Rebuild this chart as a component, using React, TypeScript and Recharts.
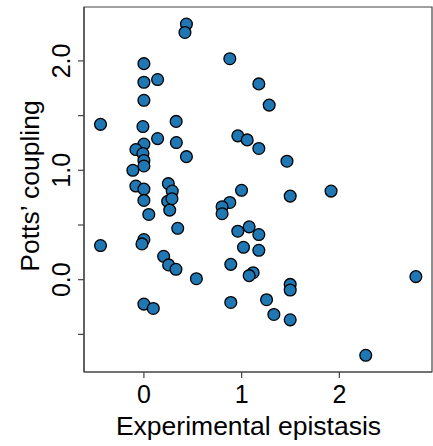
import React from 'react';
import { ScatterChart, Scatter, XAxis, YAxis, ReferenceArea } from 'recharts';

// experimental epistasis (x) and Potts coupling (y) per residue pair
const epistasis = [
  0.435, 0.42, 0.0, 0.0, 0.14, 0.0, -0.444, -0.01, 0.33,
  0.879, 1.176, 1.282,
  0.14, 0.0, 0.332, -0.082, -0.01, 0.0, 0.0, 0.435, -0.113, -0.082, 0.0,
  0.25, 0.29, 0.0, 0.243, 0.287, 0.264, 0.05, 0.346, 0.0, -0.02, -0.444,
  0.961, 1.057, 1.176, 1.464, 0.999, 0.879, 0.8, 0.8, 1.497, 0.961, 1.077,
  1.176, 1.019, 1.176,
  1.915,
  0.202, 0.253, 0.328, 0.537, 0.0, 0.096,
  0.889, 1.118, 1.077, 1.497, 1.497, 0.889, 1.255, 1.33, 1.497,
  2.783, 2.27,
];

const coupling = [
  2.337, 2.26, 1.975, 1.805, 1.83, 1.64, 1.42, 1.4, 1.447,
  2.02, 1.79, 1.596,
  1.29, 1.24, 1.254, 1.19, 1.153, 1.09, 1.04, 1.125, 1.0, 0.856, 0.828,
  0.878, 0.81, 0.725, 0.716, 0.74, 0.636, 0.596, 0.47, 0.367, 0.327, 0.312,
  1.315, 1.278, 1.2, 1.083, 0.817, 0.706, 0.667, 0.603, 0.764, 0.443, 0.483,
  0.413, 0.296, 0.269,
  0.81,
  0.214, 0.135, 0.095, 0.009, -0.223, -0.263,
  0.14, 0.064, 0.037, -0.043, -0.095, -0.208, -0.183, -0.318, -0.367,
  0.028, -0.691,
];

const xTicks = [0, 1, 2];
const yTicks = [-0.5, 0, 0.5, 1, 1.5, 2];
const yLabelled = [0, 1, 2];

const X_DOMAIN: [number, number] = [-0.613, 2.948];
const Y_DOMAIN: [number, number] = [-0.844, 2.493];

const points = epistasis.map((x, i) => ({ x, y: coupling[i] }));

const FONT = '"Liberation Sans", Arial, Helvetica, sans-serif';

const Dot = (props: any) => (
  <circle cx={props.cx} cy={props.cy} r={5.9} fill="#1f77b4" stroke="#000" strokeWidth={1.3} />
);

const XTick = (props: any) => (
  <text x={props.x} y={props.y + 23} textAnchor="middle" fontSize={25} fontFamily={FONT} fill="#000">
    {props.payload.value}
  </text>
);

const YTick = (props: any) => {
  const v = props.payload.value;
  if (!yLabelled.includes(v)) return null;
  const x = props.x - 15;
  return (
    <text
      x={x}
      y={props.y}
      transform={`rotate(-90, ${x}, ${props.y})`}
      textAnchor="middle"
      dominantBaseline="central"
      fontSize={25}
      fontFamily={FONT}
      fill="#000"
    >
      {v.toFixed(1)}
    </text>
  );
};

const XTitle = () => (
  <text x={248.5} y={435} textAnchor="middle" fontSize={26.5} fontFamily={FONT} fill="#000">
    Experimental epistasis
  </text>
);

const YTitle = () => (
  <text
    x={30}
    y={186}
    transform="rotate(-90, 30, 186)"
    textAnchor="middle"
    dominantBaseline="central"
    fontSize={26.5}
    fontFamily={FONT}
    fill="#000"
  >
    Potts’ coupling
  </text>
);

export default function App() {
  return (
    <div style={{ width: 433, height: 446, background: '#fff' }}>
      <style>{'body { margin: 0; }'}</style>
      <ScatterChart width={433} height={446} margin={{ top: 7, right: 1, bottom: 0, left: 0 }}>
        <XAxis
          type="number"
          dataKey="x"
          domain={X_DOMAIN}
          ticks={xTicks}
          allowDataOverflow
          height={74}
          tickSize={6}
          tick={<XTick />}
          axisLine={{ stroke: '#444', strokeWidth: 1.2 }}
          tickLine={{ stroke: '#444', strokeWidth: 1.2 }}
          label={<XTitle />}
        />
        <YAxis
          type="number"
          dataKey="y"
          domain={Y_DOMAIN}
          ticks={yTicks}
          allowDataOverflow
          width={84}
          tickSize={6}
          tick={<YTick />}
          axisLine={{ stroke: '#444', strokeWidth: 1.2 }}
          tickLine={{ stroke: '#444', strokeWidth: 1.2 }}
          label={<YTitle />}
        />
        {/* frame around the plotting area */}
        <ReferenceArea
          x1={X_DOMAIN[0]}
          x2={X_DOMAIN[1]}
          y1={Y_DOMAIN[0]}
          y2={Y_DOMAIN[1]}
          fill="none"
          stroke="#444"
          strokeWidth={1.2}
          ifOverflow="visible"
        />
        <Scatter data={points} shape={<Dot />} isAnimationActive={false} />
      </ScatterChart>
    </div>
  );
}
